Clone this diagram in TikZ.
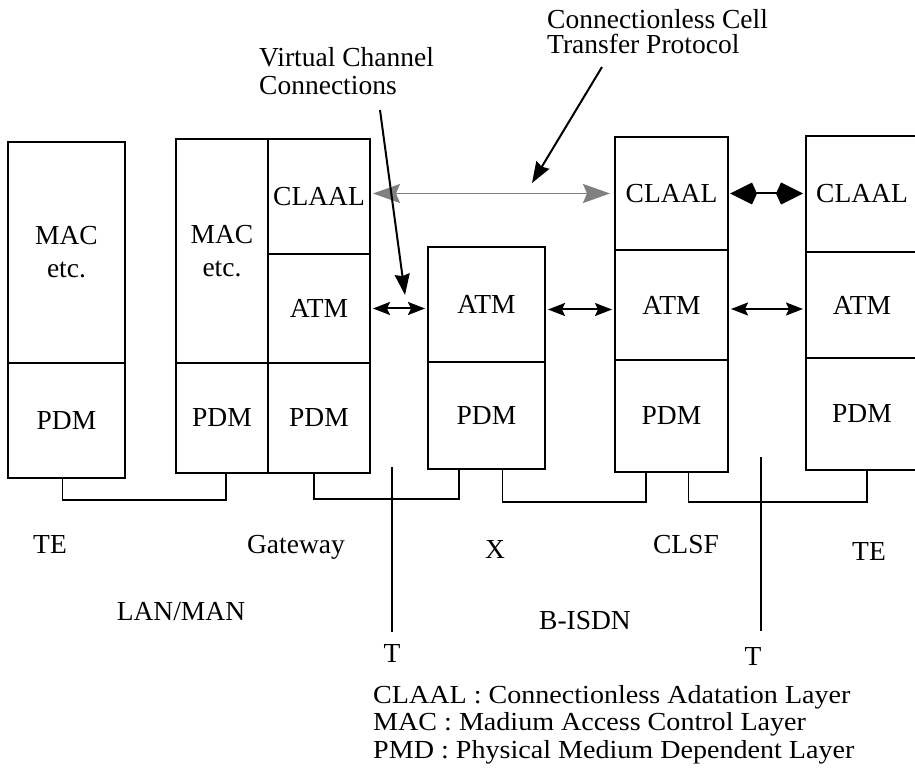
\documentclass[tikz,border=0pt]{standalone}
\usepackage{fontspec}
\usepackage{graphicx}
\setmainfont{Liberation Serif}
\usetikzlibrary{arrows.meta,calc}
\begin{document}
\begin{tikzpicture}[x=1pt,y=-1pt,
  box/.style={draw, line width=2pt, anchor=north west, inner sep=0pt, outer sep=0pt,
              align=center, font=\fontsize{27.5}{33}\selectfont},
  wire/.style={line width=1.6pt},
  lab/.style={inner sep=0pt, font=\fontsize{27.5}{29}\selectfont},
  atmarrow/.style={line width=2pt,
     {Stealth[length=17pt,width=13pt,inset=3pt]}-{Stealth[length=17pt,width=13pt,inset=3pt]},
     shorten <=3pt, shorten >=3pt},
  greyarrow/.style={line width=1.8pt, draw=black!50,
     {Stealth[length=27pt,width=19pt,inset=4pt,fill=black!50]}-{Stealth[length=27pt,width=19pt,inset=4pt,fill=black!50]},
     shorten <=3pt, shorten >=5pt},
  boldarrow/.style={line width=2pt,
     {Kite[length=27pt,width=22pt,inset=5pt]}-{Kite[length=27pt,width=22pt,inset=5pt]},
     shorten <=2pt, shorten >=3pt},
  pointer/.style={line width=2pt, -{Stealth[length=21pt,width=15pt,inset=2pt]}}
]
\useasboundingbox (0,0) rectangle (915,775);

% left TE
\node[box, minimum width=117pt, minimum height=221pt] (te1mac) at (8,142) {MAC\\etc.};
\node[box, minimum width=117pt, minimum height=115pt] (te1pdm) at (8,363) {PDM};
% gateway
\node[box, minimum width=92pt, minimum height=224pt] (gwmac) at (176,139) {MAC\\etc.};
\node[box, minimum width=102pt, minimum height=115pt] (gwclaal) at (268,139) {CLAAL};
\node[box, minimum width=102pt, minimum height=109pt] (gwatm) at (268,254) {ATM};
\node[box, minimum width=92pt, minimum height=110pt] (gwpdm1) at (176,363) {PDM};
\node[box, minimum width=102pt, minimum height=110pt] (gwpdm2) at (268,363) {PDM};
% X
\node[box, minimum width=117pt, minimum height=115pt] (xatm) at (428,247) {ATM};
\node[box, minimum width=117pt, minimum height=107pt] (xpdm) at (428,362) {PDM};
% CLSF
\node[box, minimum width=113pt, minimum height=113pt] (clclaal) at (615,137) {CLAAL};
\node[box, minimum width=113pt, minimum height=110pt] (clatm) at (615,250) {ATM};
\node[box, minimum width=113pt, minimum height=112pt] (clpdm) at (615,360) {PDM};
% right TE
\node[box, minimum width=112pt, minimum height=116pt] (te2claal) at (806,136) {CLAAL};
\node[box, minimum width=112pt, minimum height=106pt] (te2atm) at (806,252) {ATM};
\node[box, minimum width=112pt, minimum height=112pt] (te2pdm) at (806,358) {PDM};

% physical links
\draw[wire] ([xshift=-4pt]te1pdm.south) -- ++(0,22) -| ([xshift=4pt]gwpdm1.south);
\draw[wire] ([xshift=-5pt]gwpdm2.south) -- ++(0,26) -| ([xshift=31pt]xpdm.south west);
\draw[wire] ([xshift=16pt]xpdm.south) -- ++(0,33) -| ([xshift=31pt]clpdm.south west);
\draw[wire] ([xshift=17pt]clpdm.south) -- ++(0,30) -| ([xshift=61pt]te2pdm.south west);

% reference points T
\coordinate (t1a) at (392,467); \coordinate (t1b) at (392,632);
\coordinate (t2a) at (761,457); \coordinate (t2b) at (761,631);
\draw[wire] (t1a) -- (t1b);
\draw[wire] (t2a) -- (t2b);

% protocol arrows
\draw[greyarrow] (gwclaal.east |- clclaal.west) -- (clclaal.west);
\draw[boldarrow] (clclaal.east) -- (clclaal.east -| te2claal.west);
\draw[atmarrow] (gwatm.east) -- (gwatm.east -| xatm.west);
\path (xatm.east) ++(0,5) coordinate (xa);
\draw[atmarrow] (xa) -- (xa -| clatm.west);
\path (clatm.east) ++(0,4) coordinate (ca);
\draw[atmarrow] (ca) -- (ca -| te2atm.west);

% callouts
\node[lab, anchor=north west, align=left, font=\fontsize{27.5}{28.5}\selectfont] (vc) at (259,47) {Virtual Channel\\Connections};
\node[lab, anchor=north west, align=left, font=\fontsize{27.5}{25}\selectfont] (cl) at (547,9) {Connectionless Cell\\Transfer Protocol};
\coordinate (vcs) at (380,110); \coordinate (vce) at (405,295);
\draw[pointer] (vcs) -- (vce);
\coordinate (cls) at (602,67); \coordinate (cle) at (532,183);
\draw[pointer] (cls) -- (cle);

% names
\node[lab, anchor=base] (lte1) at (50,553) {TE};
\node[lab, anchor=base] (lgw) at (296,553) {Gateway};
\node[lab, anchor=base] (lx) at (495,558) {X};
\node[lab, anchor=base] (lclsf) at (686,553) {CLSF};
\node[lab, anchor=base] (lte2) at (869,560) {TE};
\node[lab, anchor=base] (llan) at (181,620) {LAN/MAN};
\node[lab, anchor=base] (lbisdn) at (585,629) {B-ISDN};
\node[lab, anchor=base] (lt1) at (392,662) {T};
\node[lab, anchor=base] (lt2) at (753,665) {T};

% legend
\node[lab, anchor=north west, align=left, font=\fontsize{26}{27.5}\selectfont] (legend) at (373,685)
  {\scalebox{1.08}[1]{CLAAL : Connectionless Adatation Layer}\\
   \scalebox{1.08}[1]{MAC : Madium Access Control Layer}\\
   \scalebox{1.08}[1]{PMD : Physical Medium Dependent Layer}};
\end{tikzpicture}
\end{document}
